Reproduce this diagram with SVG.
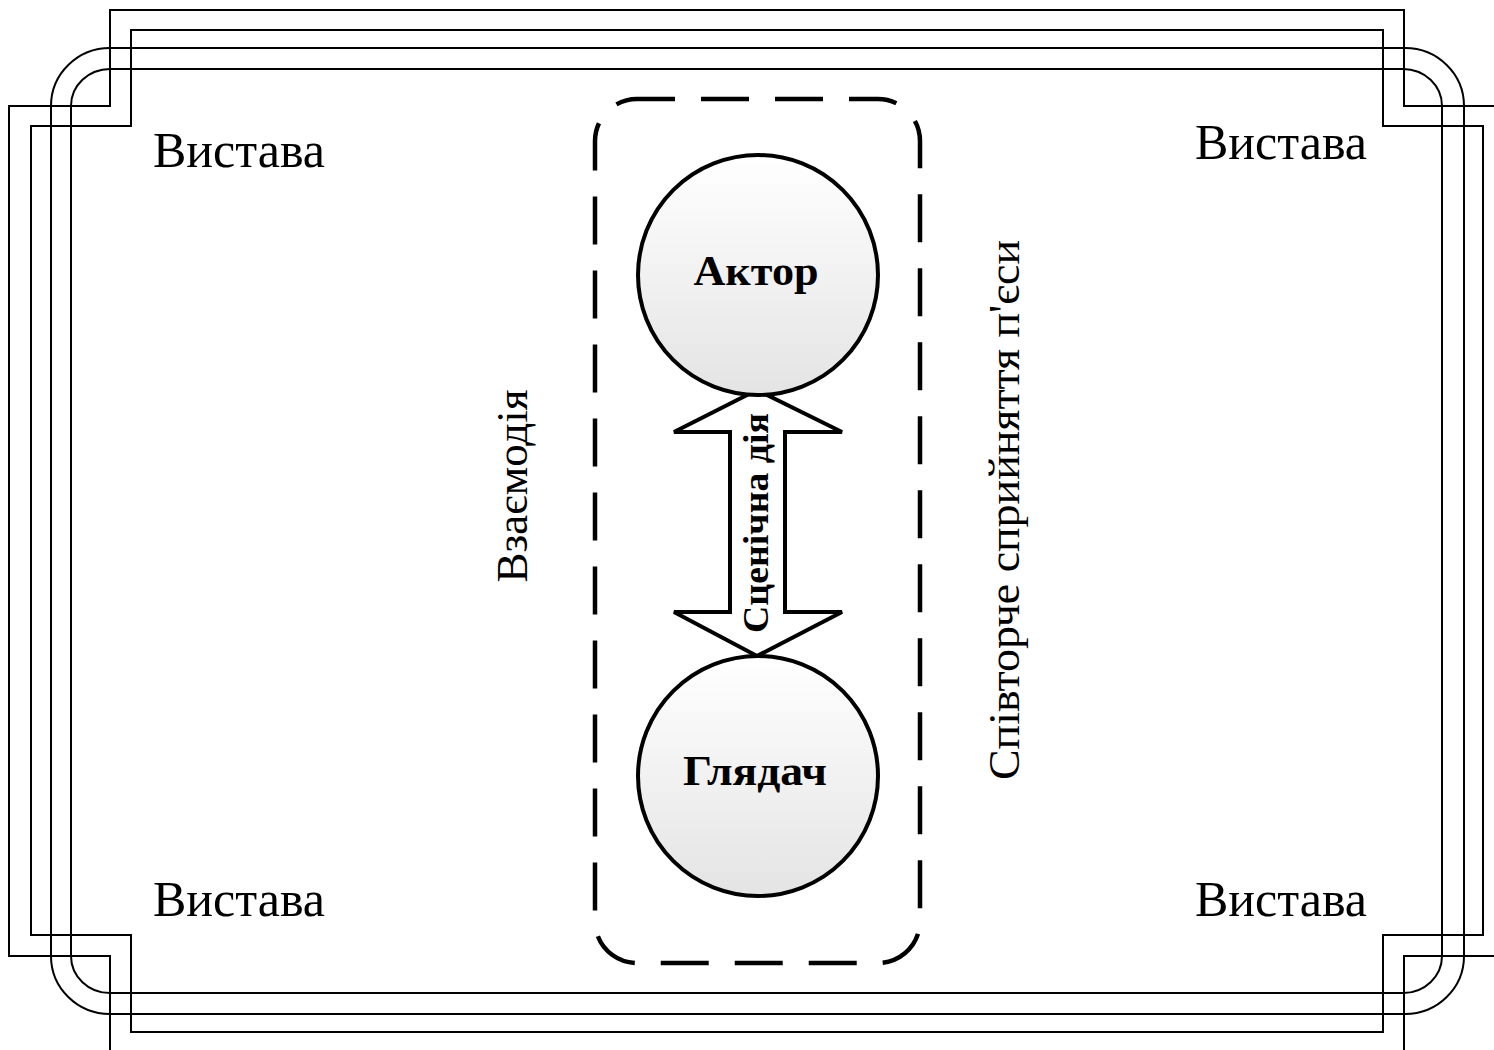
<svg xmlns="http://www.w3.org/2000/svg" width="1494" height="1050" viewBox="0 0 1494 1050">
<defs>
<linearGradient id="cg" x1="0" y1="0" x2="0" y2="1">
<stop offset="0" stop-color="#ffffff"/>
<stop offset="1" stop-color="#e4e4e4"/>
</linearGradient>
<style>
.fr{fill:none;stroke:#000;stroke-width:2}
.lbl{font-family:"Liberation Serif","Times New Roman",serif;fill:#000}
.big{font-size:50px}
.side{font-size:45px}
.node{font-size:42px;font-weight:bold}
.circ{fill:url(#cg);stroke:#000;stroke-width:4}
</style>
</defs>
<rect width="1494" height="1050" fill="#fff"/>
<g id="frame">
<path class="fr" d="M110,10 H1404 V106 H1505 V956 H1404 V1052 H110 V956 H9 V106 H110 Z"/>
<path class="fr" d="M131,30 H1383 V126 H1483 V935 H1383 V1032 H131 V935 H31 V126 H131 Z"/>
<rect class="fr" x="51" y="48" width="1413" height="966" rx="59" ry="58"/>
<rect class="fr" x="71" y="69" width="1371" height="924" rx="39" ry="37"/>
</g>
<g id="labels">
<text class="lbl big" x="239" y="167" text-anchor="middle">Вистава</text>
<text class="lbl big" x="1281" y="159" text-anchor="middle">Вистава</text>
<text class="lbl big" x="239" y="916" text-anchor="middle">Вистава</text>
<text class="lbl big" x="1281" y="916" text-anchor="middle">Вистава</text>
<text class="lbl side" transform="translate(527,486) rotate(-90)" text-anchor="middle">Взаємодія</text>
<text class="lbl side" transform="translate(1019,510) rotate(-90)" text-anchor="middle" textLength="540" lengthAdjust="spacingAndGlyphs">Співторче сприйняття п'єси</text>
</g>
<g id="group">
<rect x="595" y="99" width="325" height="864" rx="42" ry="42" fill="none" stroke="#000" stroke-width="4.5" stroke-dasharray="48 26" stroke-dashoffset="10"/>
</g>
<g id="connectors">
<path d="M757,390 L842,432 L785,432 L785,612 L842,612 L757,656 L674,612 L730,612 L730,432 L674,432 Z" fill="#fff" stroke="#000" stroke-width="4" stroke-linejoin="miter"/>
<text class="lbl" font-size="35" font-weight="bold" transform="translate(768,523) rotate(-90)" text-anchor="middle" textLength="220" lengthAdjust="spacingAndGlyphs">Сценічна дія</text>
</g>
<g id="actor">
<circle class="circ" cx="758" cy="275" r="120"/>
<text class="lbl node" x="756" y="285" text-anchor="middle" textLength="125" lengthAdjust="spacingAndGlyphs">Актор</text>
</g>
<g id="viewer">
<circle class="circ" cx="758" cy="776" r="120"/>
<text class="lbl node" x="755" y="785" text-anchor="middle" textLength="144" lengthAdjust="spacingAndGlyphs">Глядач</text>
</g>
</svg>
